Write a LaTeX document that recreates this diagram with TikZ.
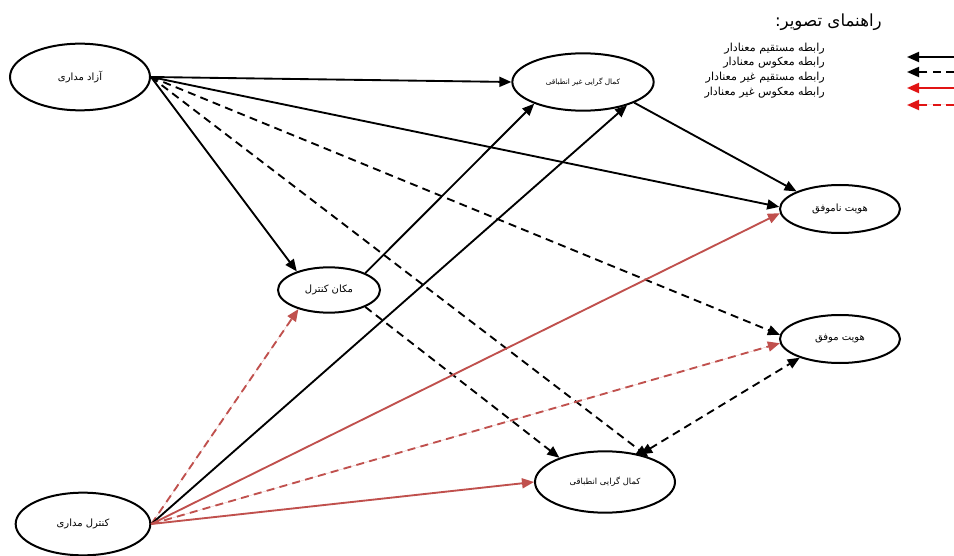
\documentclass[tikz,border=0pt]{standalone}
\usepackage{fontspec}
\TeXXeTstate=1
\newfontfamily\fafont[Script=Arabic]{DejaVu Sans}
\usetikzlibrary{shapes.geometric,arrows.meta}
\definecolor{relc}{RGB}{192,80,77}
\definecolor{legred}{RGB}{225,20,20}
\newcommand\fasz[1]{\fontsize{#1}{#1}\selectfont\fafont}
\tikzset{
  el/.style={ellipse, draw, line width=1.5pt, inner sep=0pt, fill=white},
  rel/.style={line width=1.4pt, -{Triangle[length=9pt,width=7.5pt]}},
  relboth/.style={line width=1.4pt, {Triangle[length=9pt,width=7.5pt]}-{Triangle[length=9pt,width=7.5pt]}},
  dsh/.style={dash pattern=on 6pt off 4pt},
  redl/.style={draw=relc, fill=relc},
  legtxt/.style={anchor=east, inner sep=0pt}
}
\begin{document}
\begin{tikzpicture}[x=0.75pt, y=-0.75pt]
\useasboundingbox[fill=white] (0,0) rectangle (954,556);

% nodes
\node[el, minimum width=105pt, minimum height=50pt] (azad) at (80,77) {\fasz{7.5}\beginR آزاد مداری\endR};
\node[el, minimum width=101pt, minimum height=47pt] (ctrl) at (83,524) {\fasz{7.5}\beginR کنترل مداری\endR};
\node[el, minimum width=76.5pt, minimum height=34pt] (makan) at (329,290) {\fasz{7.5}\beginR مکان کنترل\endR};
\node[el, minimum width=106pt, minimum height=43pt] (kg) at (583,82) {\fasz{5.5}\beginR کمال گرایی غیر انطباقی\endR};
\node[el, minimum width=90pt, minimum height=36pt] (nam) at (840,209) {\fasz{7.5}\beginR هویت ناموفق\endR};
\node[el, minimum width=90pt, minimum height=36pt] (mov) at (840,339) {\fasz{7.5}\beginR هویت موفق\endR};
\node[el, minimum width=105pt, minimum height=46pt] (ent) at (605,482) {\fasz{6.3}\beginR کمال گرایی انطباقی\endR};

% edges from azad
\draw[rel] (azad.east) -- (kg.west);
\draw[rel] (azad.east) -- (nam.178);
\draw[rel] (azad.east) -- (makan.150);
\draw[rel,dsh] (azad.east) -- (mov.176);
\draw[rel,dsh] (azad.east) -- (ent.30);

% edges from kg / makan
\draw[rel] (kg.-22) -- (nam.158);
\draw[rel] (makan.25) -- (kg.204);
\draw[rel,dsh] (makan.-25) -- (ent.152);

% edges from control
\draw[rel,dsh,redl] (ctrl.east) -- (makan.212);
\draw[rel] (ctrl.east) -- (kg.-28);
\draw[rel,redl] (ctrl.east) -- (nam.184);
\draw[rel,dsh,redl] (ctrl.east) -- (mov.184);
\draw[rel,redl] (ctrl.east) -- (ent.west);

% double
\draw[relboth,dsh] (ent.38) -- (mov.205);

% legend
\node[legtxt] (title) at (882,22) {\fasz{12.5}\beginR راهنمای تصویر:\endR};
\node[legtxt] (lt1) at (825,49) {\fasz{8.3}\beginR رابطه مستقیم معنادار\endR};
\node[legtxt] (lt2) at (825,63) {\fasz{8.3}\beginR رابطه معکوس معنادار\endR};
\node[legtxt] (lt3) at (825,78) {\fasz{8.3}\beginR رابطه مستقیم غیر معنادار\endR};
\node[legtxt] (lt4) at (825,93) {\fasz{8.3}\beginR رابطه معکوس غیر معنادار\endR};
\coordinate (la1) at (954,57); \coordinate (lb1) at (907,57);
\coordinate (la2) at (954,72); \coordinate (lb2) at (907,72);
\coordinate (la3) at (954,88); \coordinate (lb3) at (907,88);
\coordinate (la4) at (954,105); \coordinate (lb4) at (907,105);
\draw[rel] (la1) -- (lb1);
\draw[rel,dsh] (la2) -- (lb2);
\draw[rel,draw=legred,fill=legred] (la3) -- (lb3);
\draw[rel,dsh,draw=legred,fill=legred] (la4) -- (lb4);
\end{tikzpicture}
\end{document}
